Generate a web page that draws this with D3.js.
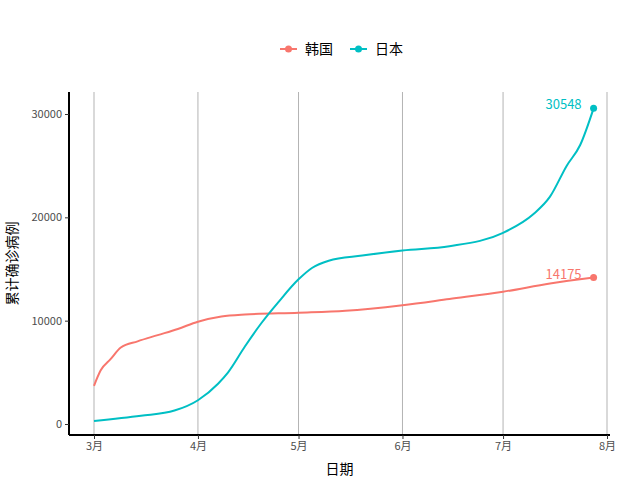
<!DOCTYPE html><html><head><meta charset="utf-8"><script src="https://cdn.jsdelivr.net/npm/d3@7"></script>
<style>body{margin:0;background:#fff}text{font-family:"Noto Sans CJK SC",sans-serif}</style></head><body><svg width="640" height="480"></svg><script>
const krDates=["2020-03-01","2020-03-03","2020-03-06","2020-03-09","2020-03-14","2020-03-20","2020-03-26","2020-04-01","2020-04-08","2020-04-15","2020-05-01","2020-05-15","2020-06-01","2020-06-15","2020-07-01","2020-07-15","2020-07-28"];
const krVals=[3700,5200,6300,7400,8000,8600,9200,9900,10400,10600,10770,10960,11500,12100,12800,13600,14175];
const jpDates=["2020-03-01","2020-03-15","2020-03-25","2020-04-01","2020-04-07","2020-04-10","2020-04-15","2020-04-20","2020-04-25","2020-05-01","2020-05-05","2020-05-10","2020-05-20","2020-06-01","2020-06-15","2020-07-01","2020-07-10","2020-07-15","2020-07-20","2020-07-24","2020-07-28"];
const jpVals=[300,800,1300,2300,3900,5000,7500,9800,11800,14000,15100,15800,16300,16800,17200,18500,20300,22000,25000,27000,30548];
const seriesNames=["韩国","日本"],colors=["#F8766D","#00BFC4"];
const months=["2020-03-01","2020-04-01","2020-05-01","2020-06-01","2020-07-01","2020-08-01"],monthLabels=["3月","4月","5月","6月","7月","8月"];
const yTicks=[0,10000,20000,30000];
const p=d3.timeParse("%Y-%m-%d");
const series=[krDates.map((d,i)=>({d:p(d),v:krVals[i]})),jpDates.map((d,i)=>({d:p(d),v:jpVals[i]}))];
const svg=d3.select("svg");
const L=69,R=610,T=92,B=435;
const x=d3.scaleTime().domain([p("2020-02-24"),p("2020-08-01")]).range([L,R]);
x.domain([x.invert(L-(94-L)*0+0),x.domain()[1]]);
// set domain so Mar1->94, Aug1->607
const d0=p("2020-03-01"),d1=p("2020-08-01");
const k=(d1-d0)/(607-94);
x.domain([new Date(+d0-k*(94-L)),new Date(+d1+k*(R-607))]);
const y=d3.scaleLinear().domain([0,30000]).range([424,114]);
const g=svg.append("g");
g.selectAll(".gr").data(months).join("line").attr("x1",d=>x(p(d))).attr("x2",d=>x(p(d))).attr("y1",T).attr("y2",B).attr("stroke","#b3b3b3").attr("stroke-width",1);
const xa=svg.append("g").attr("transform",`translate(0,${B})`).call(d3.axisBottom(x).tickValues(months.map(p)).tickFormat((d,i)=>monthLabels[i]).tickSize(4));
const ya=svg.append("g").attr("transform",`translate(${L},0)`).call(d3.axisLeft(y).tickValues(yTicks).tickFormat(d=>d).tickSize(4));
[xa,ya].forEach(a=>{a.select(".domain").attr("stroke","#000").attr("stroke-width",2);a.selectAll(".tick line").attr("stroke","#333");a.selectAll("text").attr("fill","#4d4d4d").attr("font-size",11);});
xa.select(".domain").attr("d",`M${L},0H${R}`);ya.select(".domain").attr("d",`M0,${T}V${B}`);
const line=d3.line().x(d=>x(d.d)).y(d=>y(d.v)).curve(d3.curveMonotoneX);
series.forEach((s,i)=>{
 svg.append("path").datum(s).attr("d",line).attr("fill","none").attr("stroke",colors[i]).attr("stroke-width",2);
 const e=s[s.length-1];
 svg.append("circle").attr("cx",x(e.d)).attr("cy",y(e.v)).attr("r",3.5).attr("fill",colors[i]);
 svg.append("text").attr("x",x(e.d)-12).attr("y",y(e.v)+1).attr("text-anchor","end").attr("font-size",13).attr("fill",colors[i]).text(e.v);
});
svg.append("text").attr("x",(L+R)/2).attr("y",474).attr("text-anchor","middle").attr("font-size",14).text("日期");
svg.append("text").attr("transform",`translate(17,${(T+B)/2}) rotate(-90)`).attr("text-anchor","middle").attr("font-size",14).text("累计确诊病例");
const lg=svg.append("g");
[[280,"韩国"],[350,"日本"]].forEach(([lx,t],i)=>{
 lg.append("line").attr("x1",lx).attr("x2",lx+17).attr("y1",49).attr("y2",49).attr("stroke",colors[i]).attr("stroke-width",2);
 lg.append("circle").attr("cx",lx+8.5).attr("cy",49).attr("r",3.5).attr("fill",colors[i]);
 lg.append("text").attr("x",lx+25).attr("y",54).attr("font-size",14).text(t);
});
</script></body></html>
